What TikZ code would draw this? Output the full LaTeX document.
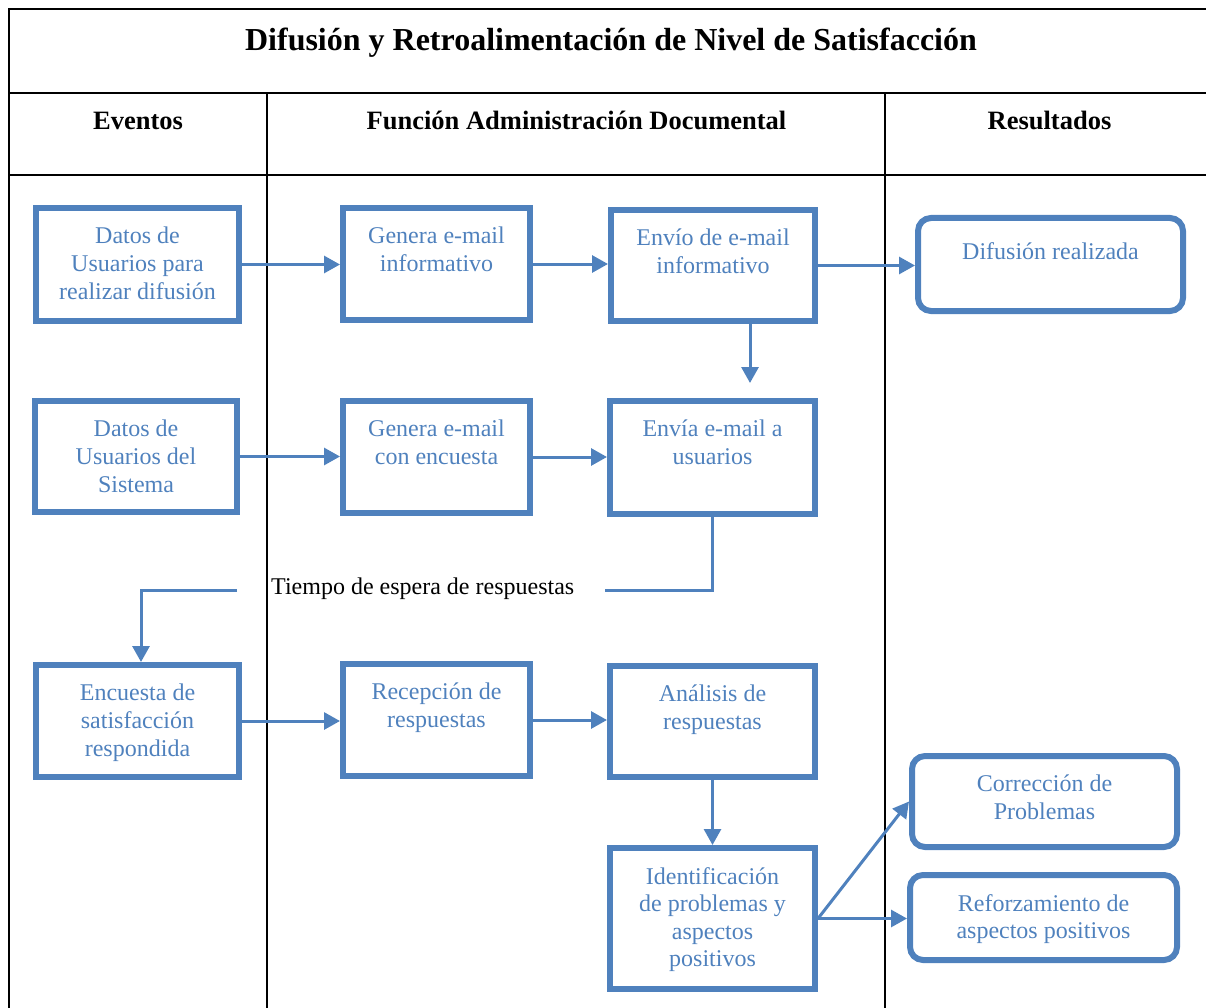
\documentclass[tikz,border=0pt]{standalone}
\usepackage{fontspec}
\setmainfont{Liberation Serif}
\usetikzlibrary{arrows.meta}
\definecolor{ob}{RGB}{79,129,189}
\tikzset{
  frame/.style={draw=black, line width=2pt},
  box/.style={draw=ob, line width=6pt, rectangle, inner sep=0pt},
  rbox/.style={box, rounded corners=13pt},
  txt/.style={text=ob, align=center, inner sep=0pt, anchor=north, yshift=-22pt,
     font=\fontsize{24}{27.6}\selectfont, execute at begin node={\rule{0pt}{22pt}}},
  conn/.style={draw=ob, line width=3pt},
  arr/.style={conn, -{Triangle[length=16pt,width=17pt]}},
  hdr/.style={font=\fontsize{26.5}{30}\selectfont\bfseries, anchor=base, inner sep=0pt},
}
\begin{document}
\begin{tikzpicture}[x=1pt,y=-1pt]
\useasboundingbox (0,0) rectangle (1206,1008);
% table frame
\draw[frame] (9,1008) -- (9,9) -- (1206,9);
\draw[frame] (9,93) -- (1206,93);
\draw[frame] (9,175) -- (1206,175);
\draw[frame] (267,93) -- (267,1008);
\draw[frame] (885,93) -- (885,1008);
% title and headers
\node[font=\fontsize{32}{36}\selectfont\bfseries, anchor=base, inner sep=0pt] (title) at (611,51) {Difusión y Retroalimentación de Nivel de Satisfacción};
\node[hdr] (h1) at (138,130) {Eventos};
\node[hdr] (h2) at (576.5,130) {Función Administración Documental};
\node[hdr] (h3) at (1049.5,130) {Resultados};
% boxes
\node[box, minimum width=203pt, minimum height=113pt] (A1) at (137.5,264.5) {};
\node[box, minimum width=187pt, minimum height=112pt] (B1) at (436.5,264) {};
\node[box, minimum width=204pt, minimum height=111pt] (C1) at (713,265.5) {};
\node[rbox, minimum width=265pt, minimum height=93pt] (D1) at (1050.5,264.5) {};
\node[box, minimum width=202pt, minimum height=111pt] (A2) at (136,456.5) {};
\node[box, minimum width=187pt, minimum height=112pt] (B2) at (436.5,457) {};
\node[box, minimum width=205pt, minimum height=113pt] (C2) at (712.5,457.5) {};
\node[box, minimum width=203pt, minimum height=112pt] (A3) at (137.5,721) {};
\node[box, minimum width=187pt, minimum height=112pt] (B3) at (436.5,720) {};
\node[box, minimum width=205pt, minimum height=111pt] (C3) at (712.5,721.5) {};
\node[box, minimum width=205pt, minimum height=141pt] (C4) at (712.5,918.5) {};
\node[rbox, minimum width=265pt, minimum height=91pt] (D4a) at (1044.5,801.5) {};
\node[rbox, minimum width=267pt, minimum height=85pt] (D4b) at (1043.5,917.5) {};
% texts
\node[txt] (A1t) at (A1.north) {Datos de\\Usuarios para\\realizar difusión};
\node[txt] (B1t) at (B1.north) {Genera e-mail\\informativo};
\node[txt] (C1t) at (C1.north) {Envío de e-mail\\informativo};
\node[txt] (D1t) at (D1.north) {Difusión realizada};
\node[txt] (A2t) at (A2.north) {Datos de\\Usuarios del\\Sistema};
\node[txt] (B2t) at (B2.north) {Genera e-mail\\con encuesta};
\node[txt] (C2t) at (C2.north) {Envía e-mail a\\usuarios};
\node[txt] (A3t) at (A3.north) {Encuesta de\\satisfacción\\respondida};
\node[txt] (B3t) at (B3.north) {Recepción de\\respuestas};
\node[txt] (C3t) at (C3.north) {Análisis de\\respuestas};
\node[txt] (C4t) at (C4.north) {Identificación\\de problemas y\\aspectos\\positivos};
\node[txt] (D4at) at (D4a.north) {Corrección de\\Problemas};
\node[txt] (D4bt) at (D4b.north) {Reforzamiento de\\aspectos positivos};
% waiting text
\node[font=\fontsize{24}{27.6}\selectfont, anchor=base west, inner sep=0pt] (wait) at (271,594) {Tiempo de espera de respuestas};
% coordinates
\coordinate (c12) at (750,383);
\coordinate (w1) at (605,590);
\coordinate (w2) at (237,590);
\coordinate (a3in) at (141,662);
% connectors
\draw[arr] (A1.east) -- (A1.east -| B1.west);
\draw[arr] (B1.east) -- (B1.east -| C1.west);
\draw[arr] (C1.east) -- (C1.east -| D1.west);
\draw[arr] (C1.south -| c12) -- (c12);
\draw[arr] (A2.east) -- (A2.east -| B2.west);
\draw[arr] (B2.east) -- (B2.east -| C2.west);
\draw[conn] (C2.south) |- (w1);
\draw[arr] (w2) -| (a3in);
\draw[arr] (A3.east) -- (A3.east -| B3.west);
\draw[arr] (B3.east) -- (B3.east -| C3.west);
\draw[arr] (C3.south) -- (C4.north);
\draw[arr] (C4.east) -- (D4a.west);
\draw[arr] (C4.east) -- (C4.east -| D4b.west);
\end{tikzpicture}
\end{document}
